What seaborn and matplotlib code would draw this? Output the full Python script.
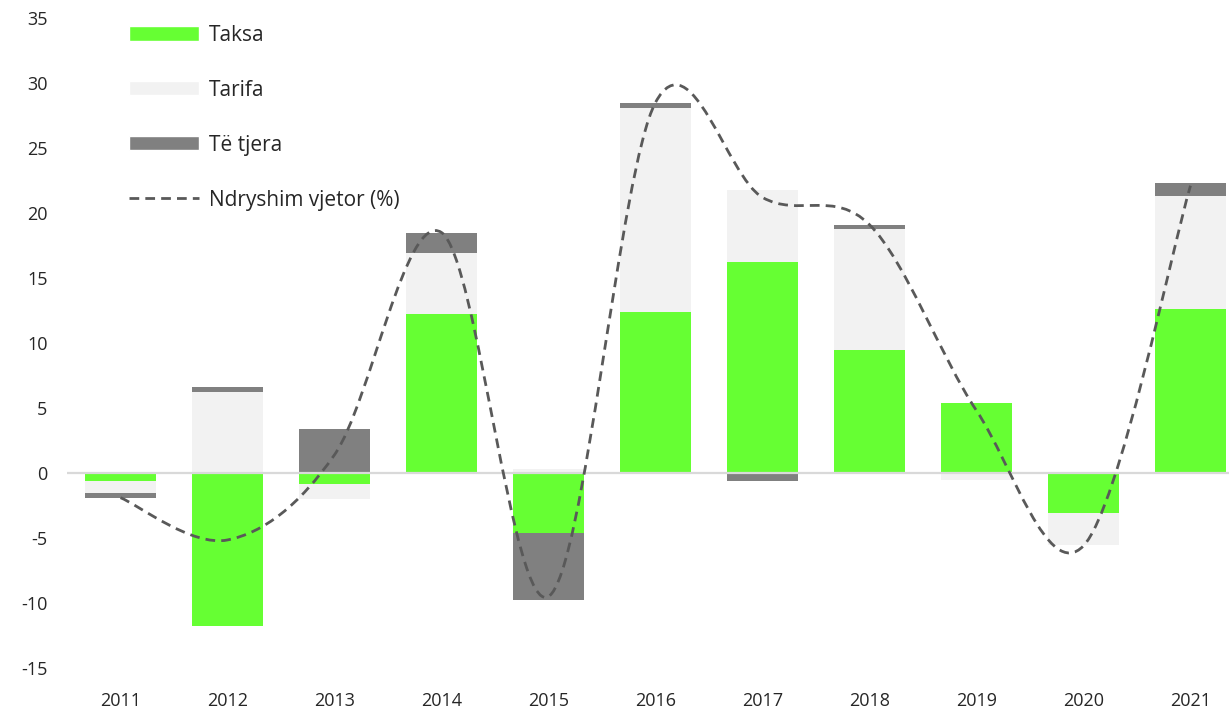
import matplotlib
matplotlib.use("Agg")
import matplotlib.pyplot as plt
from matplotlib.path import Path
from matplotlib.patches import PathPatch, Patch
from matplotlib.lines import Line2D
import numpy as np
import seaborn as sns

# Te dhenat (lexuar nga grafiku)
years = ["2011", "2012", "2013", "2014", "2015", "2016", "2017", "2018", "2019", "2020", "2021"]
taksa = [-0.65, -11.8, -0.85, 12.2, -4.6, 12.4, 16.2, 9.5, 5.4, -3.05, 12.6]
tarifa = [-0.85, 6.2, -1.15, 4.7, 0.3, 15.7, 5.6, 9.3, -0.55, -2.5, 8.7]
te_tjera = [-0.45, 0.45, 3.35, 1.6, -5.2, 0.4, -0.65, 0.3, 0.0, 0.0, 1.0]
ndryshim = [-1.9, -5.15, 1.4, 18.5, -9.5, 28.5, 21.2, 19.1, 4.8, -5.6, 22.1]

c_taksa = "#66FF33"
c_tarifa = "#F2F2F2"
c_tjera = "#808080"
c_line = "#595959"

sns.set_theme(style="white")
plt.rcParams["font.family"] = ["Open Sans", "DejaVu Sans"]
plt.rcParams["axes.unicode_minus"] = False

fig = plt.figure(figsize=(12.29, 7.15), dpi=100)
ax = fig.add_axes([67 / 1229, 47 / 715, 1 - 67 / 1229, 650 / 715])

# shtyllat: pozitivet lart, negativet poshte
pos_base = np.zeros(len(years))
neg_base = np.zeros(len(years))
for vals, col in [(taksa, c_taksa), (tarifa, c_tarifa), (te_tjera, c_tjera)]:
    v = np.array(vals)
    bottom = np.where(v >= 0, pos_base, neg_base)
    sns.barplot(x=years, y=v, bottom=bottom, color=col, width=0.67,
                errorbar=None, saturation=1, linewidth=0, ax=ax, zorder=2)
    pos_base = pos_base + np.clip(v, 0, None)
    neg_base = neg_base + np.clip(v, None, 0)

ax.axhline(0, color="#D9D9D9", lw=1.6, zorder=3)

# vija e lemuar (Catmull-Rom si Bezier)
xs = np.arange(len(years), dtype=float)
ys = np.array(ndryshim)
pts = np.column_stack([xs, ys])
ext = np.vstack([pts[0], pts, pts[-1]])
verts = [pts[0]]
codes = [Path.MOVETO]
for i in range(len(pts) - 1):
    p0, p1, p2, p3 = ext[i], ext[i + 1], ext[i + 2], ext[i + 3]
    verts += [p1 + (p2 - p0) / 6, p2 - (p3 - p1) / 6, p2]
    codes += [Path.CURVE4] * 3
ax.add_patch(PathPatch(Path(verts, codes), fill=False, edgecolor=c_line,
                       lw=2, linestyle=(0, (3.5, 2.2)), zorder=4))

ax.set_xlim(-0.5, 10.36)
ax.set_ylim(-15, 35)
ax.set_yticks(range(-15, 36, 5))
ax.set_xlabel("")
ax.set_ylabel("")
for s in ax.spines.values():
    s.set_visible(False)
ax.tick_params(axis="y", labelsize=13, pad=14, length=0)
ax.tick_params(axis="x", labelsize=13, pad=17, length=0)
for t in ax.get_yticklabels() + ax.get_xticklabels():
    t.set_color("#262626")

handles = [
    Patch(facecolor=c_taksa, label="Taksa"),
    Patch(facecolor=c_tarifa, label="Tarifa"),
    Patch(facecolor=c_tjera, label="Të tjera"),
    Line2D([0], [0], color=c_line, lw=2, linestyle=(0, (3.5, 2.2)), label="Ndryshim vjetor (%)"),
]
leg = fig.legend(handles=handles, loc="upper left", bbox_to_anchor=(110 / 1229, 1 - 6 / 715),
                 frameon=False, fontsize=15, handlelength=3.37, handleheight=0.67,
                 handletextpad=0.48, labelspacing=1.63)
for t in leg.get_texts():
    t.set_color("#262626")

fig.savefig("out.png", dpi=100)
